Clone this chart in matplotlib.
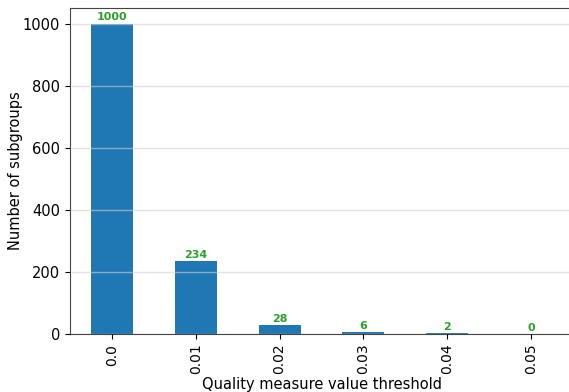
import numpy as np
import matplotlib
matplotlib.use("Agg")
import matplotlib.pyplot as plt

plt.rcParams["font.family"] = "DejaVu Sans"

# subgroup counts per quality-measure threshold
thresholds = ["0.0", "0.01", "0.02", "0.03", "0.04", "0.05"]
counts = [1000, 234, 28, 6, 2, 0]

BAR = "#1f77b4"
LABEL = "#2ca02c"

fig = plt.figure(figsize=(5.69, 3.92), dpi=100)
ax = fig.add_axes([70 / 569, 58 / 392, 503 / 569, 326 / 392])

x = np.arange(len(thresholds))
bars = ax.bar(x, counts, width=0.5, color=BAR, zorder=1)
ax.set_xlim(-0.5, len(thresholds) - 0.5)
ax.set_ylim(0, 1050)

ax.grid(axis="y", color="#d0d0d0", alpha=0.6, lw=1.0, zorder=2)
ax.set_axisbelow(False)

for rect, v in zip(bars, counts):
    ax.annotate(str(v), (rect.get_x() + rect.get_width() / 2, v),
                xytext=(0, 1), textcoords="offset points",
                ha="center", va="bottom", color=LABEL, fontsize=8,
                fontweight="bold", zorder=3)

ax.set_xticks(x)
ax.set_xticklabels(thresholds, rotation=90, fontsize=10)
ax.set_yticks([0, 200, 400, 600, 800, 1000])
ax.tick_params(axis="y", labelsize=10.5)
ax.set_xlabel("Quality measure value threshold", fontsize=10.5)
ax.set_ylabel("Number of subgroups", fontsize=10.5)
# pin the axis titles so they sit inside the canvas
ax.xaxis.set_label_coords(0.5, -43 / 326)
ax.yaxis.set_label_coords(-47 / 503, 0.5)

for s in ax.spines.values():
    s.set_color("#444444")

fig.savefig("out.png", dpi=100)
